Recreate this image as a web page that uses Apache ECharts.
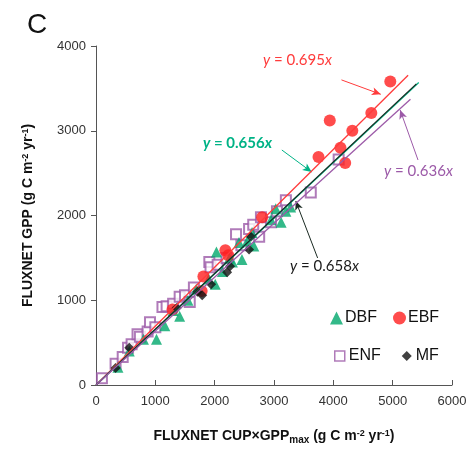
<!DOCTYPE html>
<html>
<head>
<meta charset="utf-8">
<script src="https://cdn.jsdelivr.net/npm/echarts@6/dist/echarts.min.js"></script>
<style>
  html, body { margin: 0; padding: 0; background: #fff; }
  #main { width: 474px; height: 450px; }
</style>
</head>
<body>
<div id="main"></div>
<script>
// x = CUP x GPPmax, y = GPP  (g C m-2 yr-1)
var dbf = [[370,210],[560,400],[800,540],[1020,540],[1160,700],[1300,880],[1410,810],[1550,1000],
  [1690,1130],[1900,1250],[2010,1190],[2030,1570],[2130,1340],[2250,1500],[2300,1450],[2410,1680],
  [2460,1480],[2550,1700],[2630,1800],[2660,1640],[2950,1950],[3030,2080],[3120,1920],[3200,2050],[3280,2100]]
var ebf = [[1290,890],[1780,1110],[1810,1280],[2180,1590],[2230,1530],[2800,1980],[3750,2690],
  [3940,3120],[4120,2800],[4200,2620],[4320,3000],[4640,3210],[4960,3580]]
var enf = [[100,80],[330,250],[450,330],[540,440],[600,480],[700,600],[740,570],[870,630],[910,740],
  [1000,680],[1120,920],[1190,930],[1300,960],[1410,1040],[1500,1060],[1580,980],[1650,1150],
  [1910,1450],[1930,1390],[2050,1420],[2200,1500],[2360,1780],[2450,1650],[2580,1840],[2650,1890],
  [2750,1750],[2780,1980],[2950,1920],[3050,2050],[3200,2180],[3620,2270],[4090,2660]]
var mf = [[330,200],[560,440],[1360,910],[1710,1100],[1790,1060],[1940,1190],[2210,1330],
  [2260,1400],[2580,1600],[2610,1750]]

// fitted lines y = k x
var fitNames = ['EBF fit', 'DBF fit', 'All fit', 'ENF fit']
var fitSlopes = [0.695, 0.656, 0.658, 0.636]
var fitEnds = [5260, 5440, 5400, 5300]
var fitColors = ['#ff3b3b', '#00b386', '#1a2a22', '#9c5aa8']

var xTicks = [0, 6000, 1000]
var yTicks = [0, 4000, 1000]

var myChart = echarts.init(document.getElementById('main'))

var fitSeries = fitNames.map(function (n, i) {
  return {
    name: n,
    type: 'line',
    data: [[0, 0], [fitEnds[i], fitSlopes[i] * fitEnds[i]]],
    symbol: 'none',
    lineStyle: { color: fitColors[i], width: 1.3 },
    z: 5,
    silent: true
  }
})

// arrows from the equations to their lines
var arrows = [
  [[4137, 3600], [4800, 3430]],
  [[3132, 2773], [3635, 2513]],
  [[3735, 1499], [3367, 2171]],
  [[5427, 2655], [5126, 3245]]
]
fitSeries.forEach(function (s, i) {
  s.markLine = {
    silent: true,
    symbol: ['none', 'arrow'],
    symbolSize: [6, 9],
    label: { show: false },
    lineStyle: { color: fitColors[i], type: 'solid', width: 1 },
    data: [[{ coord: arrows[i][0] }, { coord: arrows[i][1] }]]
  }
})

function eq(txt, color, bold) {
  return {
    type: 'text',
    style: {
      text: '{i|y} = ' + txt + '{i|x}',
      fill: color,
      font: (bold ? 'bold ' : '') + '15px Lato',
      rich: { i: { fontStyle: 'italic', fontWeight: bold ? 'bold' : 'normal', fontSize: 15, fontFamily: 'Lato', fill: color } }
    }
  }
}
var g1 = eq('0.695', '#ff3b3b', false); g1.left = 263; g1.top = 53
var g2 = eq('0.656', '#00b386', true); g2.left = 203; g2.top = 136
var g3 = eq('0.658', '#1a1a1a', false); g3.left = 290; g3.top = 259
var g4 = eq('0.636', '#9c5aa8', false); g4.left = 384; g4.top = 164

var plain = function (v) { return String(v) }

var nameRich = {
  b: { fontSize: 14, fontWeight: 'bold', color: '#111', fontFamily: 'Liberation Sans', lineHeight: 18, verticalAlign: 'top' },
  s: { fontSize: 10, fontWeight: 'bold', color: '#111', fontFamily: 'Liberation Sans', lineHeight: 18, verticalAlign: 'top', padding: [6, 0, 0, 0] },
  p: { fontSize: 9, fontWeight: 'bold', color: '#111', fontFamily: 'Liberation Sans', lineHeight: 12, verticalAlign: 'top' }
}

myChart.setOption({
  animation: false,
  title: { text: 'C', left: 22, top: 6, textStyle: { fontSize: 28, fontWeight: 'normal', color: '#111', fontFamily: 'Liberation Sans' } },
  grid: { left: 96, right: 22, top: 46, bottom: 65 },
  legend: [
    { data: ['DBF', 'EBF'], left: 325, top: 305, itemGap: 16, itemWidth: 13, itemHeight: 13,
      textStyle: { fontSize: 16, color: '#111', fontFamily: 'Liberation Sans', padding: [0, 0, 0, -3] } },
    { data: [
        { name: 'ENF', icon: 'rect', itemStyle: { color: '#fff', borderColor: '#9c5aa8', borderWidth: 1.5 } },
        { name: 'MF', icon: 'diamond' }
      ],
      left: 329, top: 343, itemGap: 21, itemWidth: 10, itemHeight: 10,
      textStyle: { fontSize: 16, color: '#111', fontFamily: 'Liberation Sans', padding: [0, 0, 0, -1] } }
  ],
  graphic: [g1, g2, g3, g4],
  xAxis: {
    type: 'value', min: xTicks[0], max: xTicks[1], interval: xTicks[2],
    name: '{b|FLUXNET CUP×GPP}{s|max}{b| (g C m}{p|-2}{b| yr}{p|-1}{b|)}',
    nameLocation: 'middle', nameGap: 44,
    nameTextStyle: { rich: nameRich },
    splitLine: { show: false },
    axisLine: { lineStyle: { color: '#555' } },
    axisTick: { inside: true, length: 5, lineStyle: { color: '#555' } },
    axisLabel: { fontSize: 13, color: '#333', margin: 10, fontFamily: 'Liberation Sans', formatter: plain }
  },
  yAxis: {
    type: 'value', min: yTicks[0], max: yTicks[1], interval: yTicks[2],
    name: '{b|FLUXNET GPP (g C m}{p|-2}{b| yr}{p|-1}{b|)}',
    nameLocation: 'middle', nameGap: 57, nameRotate: 90,
    nameTextStyle: { rich: nameRich },
    splitLine: { show: false },
    axisLine: { show: true, lineStyle: { color: '#555' } },
    axisTick: { show: true, inside: false, length: 5, lineStyle: { color: '#555' } },
    axisLabel: { fontSize: 13, color: '#333', margin: 10, fontFamily: 'Liberation Sans', formatter: plain }
  },
  series: [
    { name: 'ENF', type: 'scatter', data: enf, symbol: 'emptyRect', symbolSize: 10,
      itemStyle: { color: '#9c5aa8', borderColor: '#9c5aa8', borderWidth: 1.4 }, z: 2 },
    { name: 'DBF', type: 'scatter', data: dbf, symbol: 'triangle', symbolSize: 11,
      itemStyle: { color: '#00a86b' }, z: 3 },
    { name: 'EBF', type: 'scatter', data: ebf, symbol: 'circle', symbolSize: 12,
      itemStyle: { color: '#ff1f1f' }, z: 3 },
    { name: 'MF', type: 'scatter', data: mf, symbol: 'diamond', symbolSize: 10,
      itemStyle: { color: '#111' }, z: 4 }
  ].concat(fitSeries)
})
</script>
</body>
</html>
